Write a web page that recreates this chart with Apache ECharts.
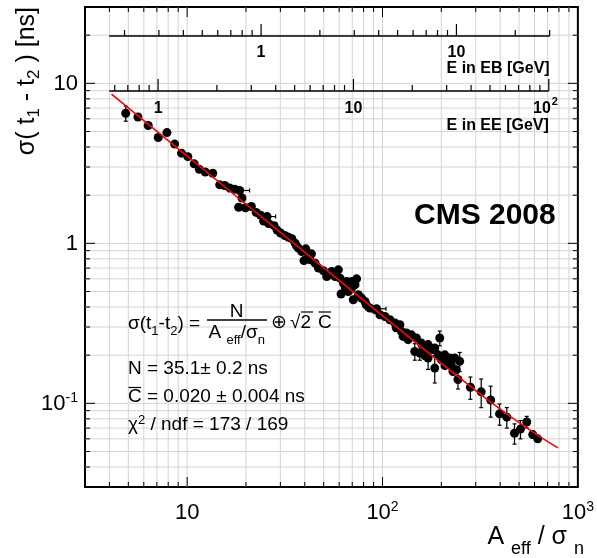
<!DOCTYPE html>
<html><head><meta charset="utf-8">
<script src="https://cdn.jsdelivr.net/npm/echarts@6/dist/echarts.min.js"></script>
<style>html,body{margin:0;padding:0;background:#fff}#c{width:597px;height:558px}</style>
</head><body><div id="c"></div>
<script>
// ---- data ----
const aeff = [4.85,5.60,6.32,7.11,7.88,8.63,9.36,10.08,10.86,11.54,
12.38,13.52,14.68,15.57,16.51,17.51,18.57,19.08,18.35,19.86,
21.31,22.55,23.77,25.66,24.63,26.11,27.86,28.86,30.07,31.62,
33.03,34.34,35.74,36.28,37.14,38.61,40.47,39.63,41.78,42.62,
43.27,45.20,46.98,49.83,51.80,53.46,54.94,57.18,59.43,60.63,
63.02,64.52,65.51,69.47,72.31,73.68,61.35,66.83,69.47,70.88,
75.17,78.15,81.33,82.56,86.25,93.2,91.46,96.98,102.9,109.1,
115.7,117.5,122.7,125.0,127.5,132.6,135.2,140.6,149.1,146.3,
158.1,164.6,165.1,155.2,171.1,177.8,171.1,185.1,196.3,192.4,
185.1,200.0,208.2,208.8,216.4,224.9,220.8,229.5,234.0,248.3,
238.5,243.3,281.8,320.0,357.8,397.2,432.8,473.8,508.3,547.4,
587.4,622.8];
const sigma = [6.50,6.16,5.45,4.59,4.92,4.17,3.66,3.48,3.14,2.90,
2.79,2.74,2.32,2.30,2.22,2.18,2.14,1.92,1.68,1.67,
1.70,1.56,1.50,1.47,1.38,1.33,1.29,1.21,1.16,1.12,
1.09,1.07,1.00,0.965,0.933,0.889,0.924,0.780,0.827,0.789,
0.860,0.752,0.700,0.674,0.621,0.636,0.667,0.621,0.683,0.606,
0.565,0.527,0.577,0.577,0.551,0.600,0.482,0.500,0.525,0.444,
0.477,0.455,0.433,0.413,0.394,0.390,0.385,0.358,0.349,0.333,
0.318,0.297,0.310,0.281,0.262,0.275,0.250,0.268,0.256,0.211,
0.238,0.222,0.198,0.206,0.233,0.216,0.192,0.222,0.256,0.201,
0.166,0.187,0.201,0.172,0.183,0.174,0.192,0.158,0.192,0.183,
0.162,0.141,0.126,0.118,0.105,0.086,0.082,0.065,0.069,0.0765,
0.0638,0.060];
const sigmaErr = [0.70,0,0,0,0,0,0,0,0,0,
0,0,0,0,0,0,0,0,0,0,
0,0,0,0,0,0,0,0,0,0,
0,0,0,0,0,0,0,0,0,0,
0,0,0,0,0,0,0,0,0,0,
0,0,0,0,0,0.02,0,0,0,0,
0,0,0,0,0,0,0,0,0,0,
0,0,0,0,0,0,0,0,0,0.025,
0,0,0,0.02,0,0,0.029,0,0.027,0,
0.032,0,0,0,0,0,0,0,0,0.025,
0,0.018,0.020,0.024,0.023,0.013,0.012,0.0094,0.009,0.0064,
0.003,0.003];
const aeffErr = [0,0,0,0,0,0,0,0,0,0,
0,0,0,0,0,0,2.3,0,0,0,
0,0,0,2.7,0,0,0,0,0,0,
0,0,0,0,0,0,0,0,0,0,
0,0,0,0,0,0,0,0,0,0,
0,0,0,0,0,0,0,0,0,0,
0,0,0,0,0,11,0,0,0,0,
0,0,0,0,0,0,0,0,0,0,
0,0,0,0,0,0,0,0,0,0,
0,0,0,0,0,0,0,0,0,0,
0,0,0,0,0,0,0,0,0,0,
0,0];
const fitAeff  = [4.1, 6, 10, 20, 40, 80, 150, 200, 250, 300, 350, 450, 550, 650, 790];
const fitSigma = [8.56, 5.85, 3.51, 1.755, 0.878, 0.440, 0.236, 0.178, 0.143, 0.120, 0.104, 0.083, 0.070, 0.061, 0.0527];

// axis tick values
const xMajorTicks = [10, 100];
const xMinorTicks = [4,5,6,7,8,9,20,30,40,50,60,70,80,90,200,300,400,500,600,700,800,900];
const yMajorTicks = [0.1, 1, 10];
const yMinorTicks = [0.04,0.05,0.06,0.07,0.08,0.09,0.2,0.3,0.4,0.5,0.6,0.7,0.8,0.9,2,3,4,5,6,7,8,9,20];
// energy scales (GeV)
const ebTicks = [0.2,0.3,0.4,0.5,0.6,0.7,0.8,0.9,1,2,3,4,5,6,7,8,9,10,20,30];
const ebMajor = [1, 10];
const ebLabels = ['1', '10'];
const ebRange = [0.167, 30];
const eeTicks = [0.6,0.7,0.8,0.9,1,2,3,4,5,6,7,8,9,10,20,30,40,50,60,70,80,90,100];
const eeMajor = [1, 10, 100];
const eeLabels = ['1', '10', '10'];
const eeRange = [0.563, 100];
const EB_SCALE = 23.9;  // A_eff/sigma_n per GeV (barrel)
const EE_SCALE = 7.1;   // A_eff/sigma_n per GeV (endcap)

const FONT = "'Liberation Sans', Arial, Helvetica, sans-serif";

function isPow10(v){ const l = Math.log10(v); return Math.abs(l - Math.round(l)) < 1e-6; }
function powLabel(v){
  if (!isPow10(v)) return '';
  const e = Math.round(Math.log10(v));
  if (e === 0) return '{b|1}';
  if (e === 1) return '{b|10}';
  return '{b|10}{s|' + e + '}';
}
const richAxis = {
  b: {fontSize: 22, fontFamily: FONT, color: '#000', padding: [2,0,0,0], verticalAlign: 'top'},
  s: {fontSize: 14, fontFamily: FONT, color: '#000', verticalAlign: 'top'}
};

function L(x1,y1,x2,y2,w,c){ return {type:'line', shape:{x1,y1,x2,y2}, style:{stroke:c||'#000', lineWidth:w||1}}; }
function T(x,y,text,font,align,va){
  return {type:'text', style:{text, x, y, font, fill:'#000', textAlign:align, textVerticalAlign:va, align, verticalAlign:va}};
}

function renderGridLines(params, api){
  const cs = params.coordSys, ch = [];
  xMajorTicks.concat(xMinorTicks).forEach(v => {
    const x = api.coord([v, 1])[0];
    ch.push(L(x, cs.y, x, cs.y + cs.height, 1, '#d4d4d4'));
  });
  yMajorTicks.concat(yMinorTicks).forEach(v => {
    const y = api.coord([10, v])[1];
    ch.push(L(cs.x, y, cs.x + cs.width, y, 1, '#d4d4d4'));
  });
  return {type:'group', children: ch};
}

function renderTicks(params, api){
  const cs = params.coordSys, ch = [];
  const top = cs.y, bot = cs.y + cs.height, lef = cs.x, rig = cs.x + cs.width;
  xMajorTicks.concat(xMinorTicks).forEach(v => {
    const x = api.coord([v, 1])[0];
    const len = xMajorTicks.includes(v) ? 10 : 5;
    ch.push(L(x, bot, x, bot - len, 1));
    ch.push(L(x, top, x, top + len, 1));
  });
  yMajorTicks.concat(yMinorTicks).forEach(v => {
    const y = api.coord([10, v])[1];
    const len = yMajorTicks.includes(v) ? 10 : 5;
    ch.push(L(lef, y, lef + len, y, 1));
    ch.push(L(rig, y, rig - len, y, 1));
  });
  // inner energy axes
  const bold = 'bold 16px ' + FONT;
  const axes = [
    {ticks: ebTicks, major: ebMajor, labels: ebLabels, range: ebRange, scale: EB_SCALE, y: top + 29, title: 'E in EB [GeV]', ly: 17, ty: 33},
    {ticks: eeTicks, major: eeMajor, labels: eeLabels, range: eeRange, scale: EE_SCALE, y: top + 84, title: 'E in EE [GeV]', ly: 18, ty: 35}
  ];
  axes.forEach(a => {
    const x0 = api.coord([a.range[0] * a.scale, 1])[0];
    const x1 = api.coord([a.range[1] * a.scale, 1])[0];
    ch.push(L(x0, a.y, x1, a.y, 1.6));
    a.ticks.forEach(t => {
      const x = api.coord([t * a.scale, 1])[0];
      const len = a.major.includes(t) ? 12 : 6;
      ch.push(L(x, a.y, x, a.y - len, 1.2));
    });
    a.major.forEach((m, i) => {
      const x = api.coord([m * a.scale, 1])[0];
      if (m === 100) {
        ch.push(T(x + 2, a.y + a.ly, a.labels[i], bold, 'right', 'middle'));
        ch.push(T(x + 3, a.y + a.ly - 7, '2', 'bold 11px ' + FONT, 'left', 'middle'));
      } else {
        ch.push(T(x, a.y + a.ly, a.labels[i], bold, 'center', 'middle'));
      }
    });
    ch.push(T(x1, a.y + a.ty, a.title, bold, 'right', 'middle'));
  });
  return {type:'group', children: ch};
}

function renderErr(params, api){
  const x = api.value(0), y = api.value(1), ey = api.value(2), ex = api.value(3);
  const ch = [];
  if (ey > 0) {
    const p1 = api.coord([x, y - ey]), p2 = api.coord([x, y + ey]);
    ch.push(L(p1[0], p1[1], p2[0], p2[1], 1.2));
    ch.push(L(p1[0]-2, p1[1], p1[0]+2, p1[1], 1.2));
    ch.push(L(p2[0]-2, p2[1], p2[0]+2, p2[1], 1.2));
  }
  if (ex > 0) {
    const p1 = api.coord([x - ex, y]), p2 = api.coord([x + ex, y]);
    ch.push(L(p1[0], p1[1], p2[0], p2[1], 1.2));
    ch.push(L(p1[0], p1[1]-2, p1[0], p1[1]+2, 1.2));
    ch.push(L(p2[0], p2[1]-2, p2[0], p2[1]+2, 1.2));
  }
  return {type:'group', children: ch};
}

const fr = {
  m:  {fontSize: 19, fontFamily: FONT, fill: '#000', padding: [3,0,0,0], verticalAlign: 'top'},
  sb: {fontSize: 13, fontFamily: FONT, fill: '#000', padding: [13,0,0,0], verticalAlign: 'top'},
  sp: {fontSize: 13, fontFamily: FONT, fill: '#000', padding: [2,0,0,0], verticalAlign: 'top'}
};
function G(x, y, text, opts, extra){
  return Object.assign({type:'text', x, y, silent:true, z: 100,
    style: Object.assign({text, fill:'#000', font: '19px ' + FONT, textAlign:'left', textVerticalAlign:'middle', align:'left', verticalAlign:'middle'}, opts || {})}, extra || {});
}
function GL(x1,y1,x2,y2,w){ return {type:'line', silent:true, z:100, shape:{x1,y1,x2,y2}, style:{stroke:'#000', lineWidth:w||1.2}}; }

const chart = echarts.init(document.getElementById('c'), null, {renderer:'canvas'});
chart.setOption({
  animation: false,
  backgroundColor: '#fff',
  grid: {left: 85, top: 7, width: 496, height: 480, show: true, borderColor: '#000', borderWidth: 2, backgroundColor: 'transparent'},
  xAxis: {type:'log', logBase: 10, min: 3, max: 1000,
    axisLine:{show:false}, axisTick:{show:false}, splitLine:{show:false},
    axisLabel:{formatter: powLabel, margin: 13, color:'#000', rich: richAxis}},
  yAxis: {type:'log', logBase: 10, min: 0.03, max: 30,
    axisLine:{show:false}, axisTick:{show:false}, splitLine:{show:false},
    axisLabel:{formatter: powLabel, margin: 7, color:'#000', rich: richAxis}},
  series: [
    {type:'custom', name:'grid', z: 1, silent: true, data: [[10, 1]], renderItem: renderGridLines},
    {type:'custom', name:'errors', z: 3, silent: true,
      data: aeff.map((x, i) => [x, sigma[i], sigmaErr[i], aeffErr[i]]), renderItem: renderErr},
    {type:'scatter', name:'data', z: 4, symbol:'circle', symbolSize: 9, silent: true,
      itemStyle:{color:'#000', opacity: 1},
      data: aeff.map((x, i) => [x, sigma[i]])},
    {type:'line', name:'fit', z: 5, showSymbol: false, symbol:'none', smooth: false, silent: true,
      lineStyle:{color:'#ff0000', width: 1.6}, data: fitAeff.map((x, i) => [x, fitSigma[i]])},
    {type:'custom', name:'ticks', z: 6, silent: true, clip: false, data: [[10, 1]], renderItem: renderTicks}
  ],
  graphic: [
    // axis titles
    G(27, 7, '{m|σ( t}{sb|1}{m| - t}{sb|2}{m| ) [ns]}', {textAlign:'right', align:'right',
      rich: {m:{fontSize:25, fontFamily:FONT, fill:'#000', padding:[3,0,0,0], verticalAlign:'top'},
             sb:{fontSize:17, fontFamily:FONT, fill:'#000', padding:[14.5,0,0,0], verticalAlign:'top'}}},
      {rotation: Math.PI / 2}),
    G(584, 521.5, '{m|A }{sb|eff}{m| / σ }{sb|n}', {textAlign:'right', align:'right', textVerticalAlign:'top', verticalAlign:'top',
      rich: {m:{fontSize:25, fontFamily:FONT, fill:'#000', padding:[3,0,0,0], verticalAlign:'top'},
             sb:{fontSize:18, fontFamily:FONT, fill:'#000', padding:[19,0,0,0], verticalAlign:'top'}}}),
    // CMS label
    G(414, 216, 'CMS 2008', {font: 'bold 30px ' + FONT}),
    // formula
    G(128, 311.5, '{m|σ(t}{sb|1}{m|-t}{sb|2}{m|) =}', {textVerticalAlign:'top', verticalAlign:'top', rich: fr}),
    G(236.7, 299.5, '{m|N}', {textAlign:'center', align:'center', textVerticalAlign:'top', verticalAlign:'top', rich: fr}),
    GL(207, 320, 267, 320, 1.3),
    G(236.7, 320.5, '{m|A }{sb|eff}{m|/σ}{sb|n}', {textAlign:'center', align:'center', textVerticalAlign:'top', verticalAlign:'top', rich: fr}),
    G(279, 323, '⊕', {textAlign:'center', align:'center'}),
    G(290, 323, '√2', {}),
    GL(301, 312, 313, 312, 1.2),
    G(318, 323, 'C', {}),
    GL(318.5, 312, 331, 312, 1.2),
    G(128, 368.7, 'N = 35.1± 0.2 ns', {}),
    G(128, 396.3, 'C = 0.020 ± 0.004 ns', {}),
    GL(128.5, 387.5, 141, 387.5, 1.2),
    G(128, 412.2, '{m|χ}{sp|2}{m| / ndf = 173 / 169}', {textVerticalAlign:'top', verticalAlign:'top', rich: fr})
  ]
});
</script>
</body></html>
